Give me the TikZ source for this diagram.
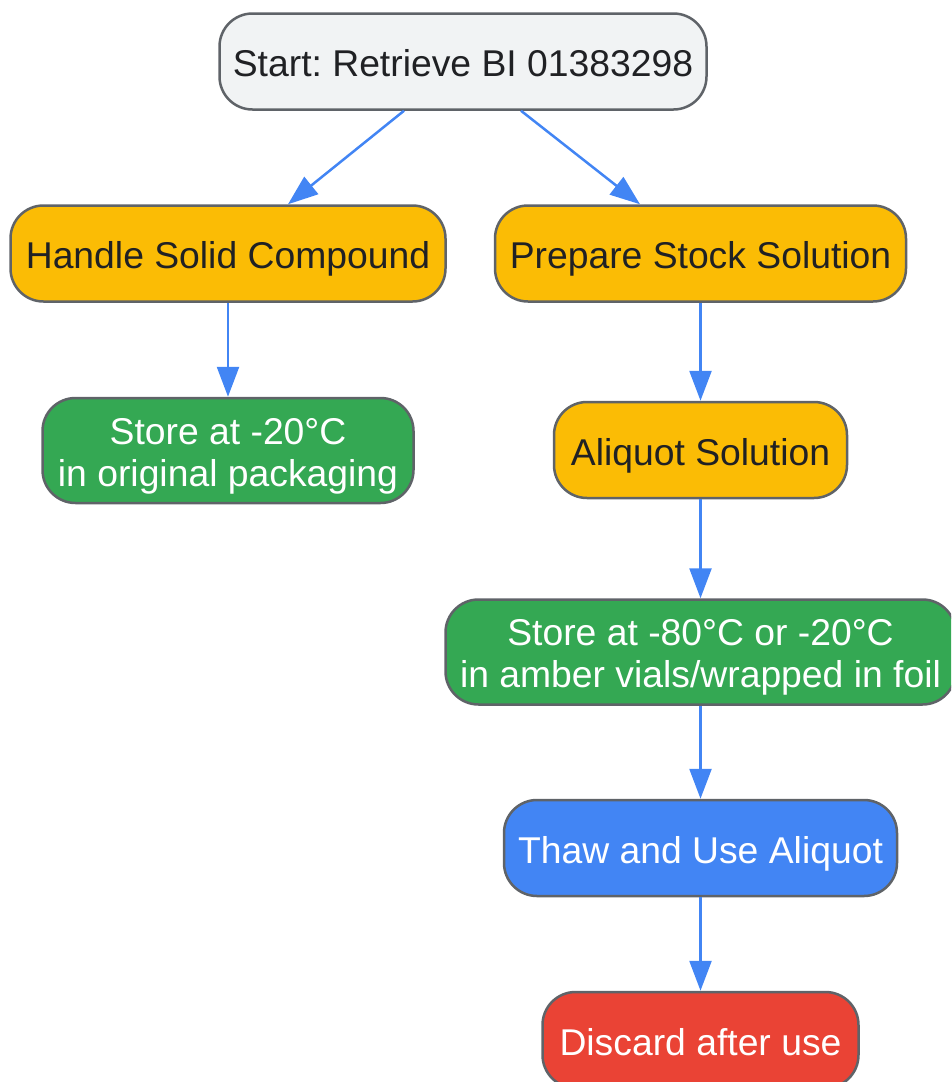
\documentclass[tikz,border=0pt]{standalone}
\usepackage{fontspec}
\setmainfont{Liberation Sans}
\usetikzlibrary{arrows.meta}
\definecolor{cgray}{HTML}{F1F3F4}
\definecolor{cyel}{HTML}{FBBC05}
\definecolor{cgrn}{HTML}{34A853}
\definecolor{cblu}{HTML}{4285F4}
\definecolor{cred}{HTML}{EA4335}
\definecolor{cdark}{HTML}{202124}
\definecolor{cline}{HTML}{5F6368}
\tikzset{x=1pt,y=-1pt,
 box/.style={draw=cline,line width=2.5pt,rounded corners=33pt,inner sep=0pt,align=center,font=\frenchspacing\fontsize{37.3pt}{42pt}\selectfont},
 one/.style={text height=30pt,text depth=0pt,minimum height=96pt},
 two/.style={text height=71pt,text depth=0pt,minimum height=105pt},
 dk/.style={box,text=cdark},
 wh/.style={box,text=white},
 conn/.style={draw=cblu,line width=2.5pt,-{Triangle[length=30pt,width=22pt]}}}
\begin{document}
\begin{tikzpicture}
\useasboundingbox (0,0) rectangle (951,1082);
\begin{scope}
\clip (0,0) rectangle (951,1082);
\node[dk,one,fill=cgray,minimum width=487pt] (a) at (463,61.5) {Start: Retrieve BI 01383298};
\node[dk,one,fill=cyel,minimum width=435pt] (b) at (228,253.5) {Handle Solid Compound};
\node[dk,one,fill=cyel,minimum width=411pt] (c) at (700.5,253.5) {Prepare Stock Solution};
\node[wh,two,fill=cgrn,minimum width=371pt] (d) at (228,450.5) {Store at -20°C\\in original packaging};
\node[dk,one,fill=cyel,minimum width=293pt] (e) at (700.5,450) {Aliquot Solution};
\node[wh,two,fill=cgrn,minimum width=510pt] (f) at (700.5,652) {Store at -80°C or -20°C\\in amber vials/wrapped in foil};
\node[wh,one,fill=cblu,minimum width=393pt] (g) at (700.5,848) {Thaw and Use Aliquot};
\node[wh,one,fill=cred,minimum width=316pt] (h) at (700.5,1040) {Discard after use};
\end{scope}
\draw[conn] ([xshift=-59pt]a.south) -- ([xshift=60pt]b.north);
\draw[conn] ([xshift=58pt]a.south) -- ([xshift=-60.5pt]c.north);
\draw[conn] (b) -- (d);
\draw[conn] (c) -- (e);
\draw[conn] (e) -- (f);
\draw[conn] (f) -- (g);
\draw[conn] (g) -- (h);
\end{tikzpicture}
\end{document}
